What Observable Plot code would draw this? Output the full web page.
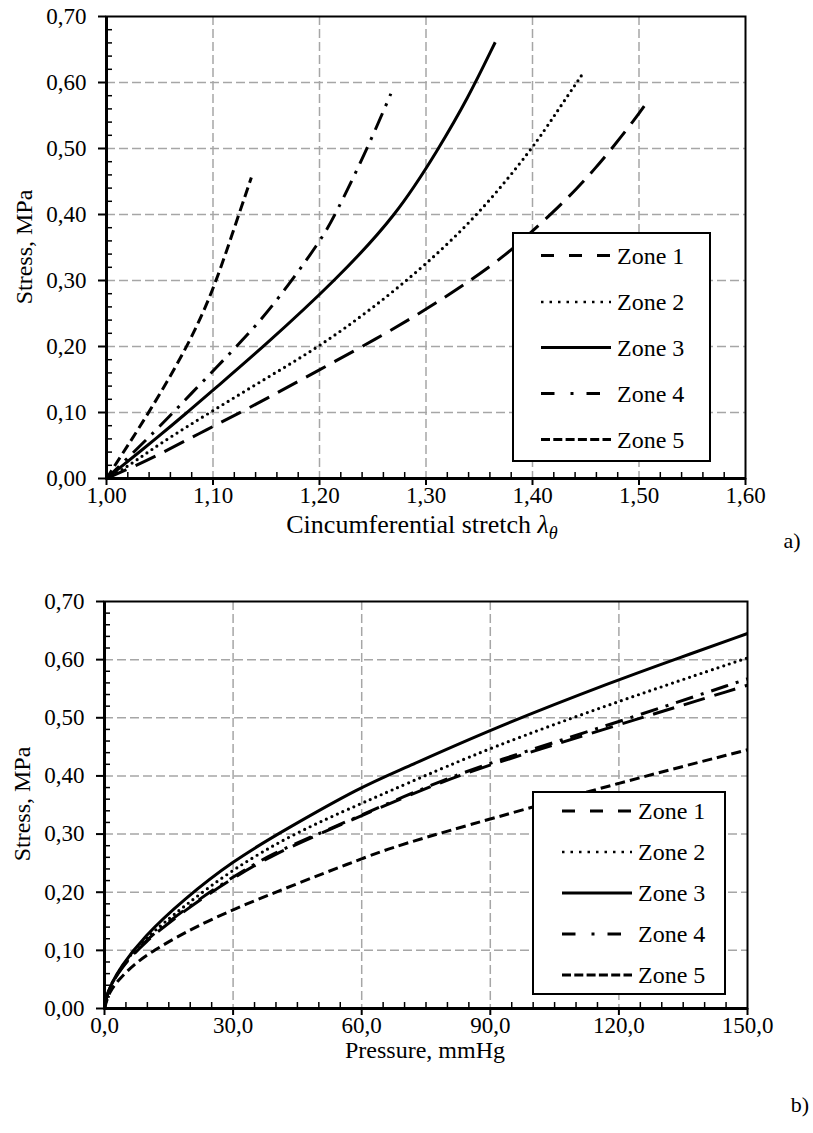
<!DOCTYPE html>
<html>
<head>
<meta charset="utf-8">
<script src="https://cdn.jsdelivr.net/npm/d3@7"></script>
<script src="https://cdn.jsdelivr.net/npm/@observablehq/plot@0.6"></script>
<style>
  body { margin: 0; background: #fff; font-family: "Liberation Serif", "Times New Roman", Tinos, Times, "DejaVu Serif", serif; color: #000; }
  #page { position: relative; width: 813px; height: 1133px; overflow: hidden; background: #fff; }
  .chart { position: absolute; left: 0; }
  .ttl { position: absolute; font-size: 24px; white-space: nowrap; line-height: 1; transform: translate(-50%, -50%); }
  .rot { transform: translate(-50%, -50%) rotate(-90deg); }
  .tag { position: absolute; font-size: 22px; line-height: 1; transform: translate(-50%, -50%); }
  .legend { position: absolute; }
</style>
</head>
<body>
<div id="page">
  <div id="chartA" class="chart" style="top:0px"></div>
  <div id="chartB" class="chart" style="top:545px"></div>
  <div class="ttl" style="left:422px; top:527px; font-size:26px">Cincumferential stretch <i>λ</i><sub style="font-size:70%; vertical-align:-0.35em"><i>θ</i></sub></div>
  <div class="ttl rot" style="left:24px; top:247px">Stress, MPa</div>
  <div class="tag" style="left:792px; top:541px">a)</div>
  <div class="ttl" style="left:425px; top:1050px">Pressure, mmHg</div>
  <div class="ttl rot" style="left:22px; top:804px">Stress, MPa</div>
  <div class="tag" style="left:800px; top:1105px">b)</div>
  <div id="legA" class="legend"></div>
  <div id="legB" class="legend"></div>
</div>
<script>
// ---------- Data: chart a) stress vs circumferential stretch ----------
const zoneNames = ["Zone 1", "Zone 2", "Zone 3", "Zone 4", "Zone 5"];

const stretchZone1 = [1.00, 1.024, 1.048, 1.095, 1.138, 1.198, 1.254, 1.300, 1.342, 1.376, 1.400, 1.423, 1.442, 1.458, 1.477, 1.495, 1.507];
const stressAZone1 = [0.000, 0.017, 0.035, 0.075, 0.110, 0.163, 0.212, 0.256, 0.300, 0.340, 0.375, 0.409, 0.440, 0.468, 0.505, 0.542, 0.569];

const stretchZone2 = [1.00, 1.02, 1.05, 1.10, 1.15, 1.20, 1.25, 1.30, 1.35, 1.40, 1.423, 1.447];
const stressAZone2 = [0.000, 0.018, 0.053, 0.103, 0.152, 0.200, 0.258, 0.324, 0.401, 0.500, 0.556, 0.613];

const stretchZone3 = [1.00, 1.05, 1.0757, 1.1008, 1.1477, 1.215, 1.273, 1.312, 1.339, 1.365];
const stressAZone3 = [0.000, 0.065, 0.100, 0.135, 0.200, 0.300, 0.400, 0.500, 0.575, 0.661];

const stretchZone4 = [1.00, 1.048, 1.076, 1.132, 1.160, 1.201, 1.215, 1.245, 1.267];
const stressAZone4 = [0.000, 0.075, 0.123, 0.216, 0.269, 0.360, 0.400, 0.500, 0.583];

const stretchZone5 = [1.00, 1.02, 1.041, 1.076, 1.10, 1.118, 1.136];
const stressAZone5 = [0.000, 0.050, 0.103, 0.199, 0.284, 0.370, 0.456];

// ---------- Data: chart b) stress vs pressure ----------
const pressureZone1 = [0, 0.5, 1.5, 3.7, 9.1, 18.5, 30, 39.5, 48.9, 60, 76.9, 90, 120, 150];
const stressBZone1  = [0, 0.022, 0.040, 0.068, 0.113, 0.168, 0.225, 0.265, 0.296, 0.332, 0.385, 0.420, 0.488, 0.556];

const pressureZone2 = [0, 0.5, 1.5, 3.7, 6.8, 9.1, 18.5, 30, 43.8, 60, 69, 90, 120, 150];
const stressBZone2  = [0, 0.021, 0.040, 0.069, 0.099, 0.118, 0.176, 0.240, 0.300, 0.353, 0.382, 0.449, 0.529, 0.603];

const pressureZone3 = [0, 0.5, 1.5, 3.7, 9.1, 18.5, 30, 41.5, 60, 69, 90, 120, 132.9, 150];
const stressBZone3  = [0, 0.021, 0.041, 0.071, 0.123, 0.188, 0.254, 0.305, 0.382, 0.410, 0.480, 0.566, 0.600, 0.645];

const pressureZone4 = [0, 0.5, 1.5, 3.7, 9.1, 18.5, 30, 39.5, 48.9, 60, 76.9, 90, 120, 150];
const stressBZone4  = [0, 0.022, 0.041, 0.069, 0.115, 0.170, 0.227, 0.268, 0.297, 0.333, 0.387, 0.423, 0.493, 0.567];

const pressureZone5 = [0, 1, 3, 6.8, 11.5, 18.5, 30, 60, 69, 90, 120, 150];
const stressBZone5  = [0, 0.027, 0.047, 0.076, 0.100, 0.130, 0.172, 0.258, 0.282, 0.326, 0.388, 0.445];

// ---------- Ticks ----------
const stretchTicks = [1.00, 1.10, 1.20, 1.30, 1.40, 1.50, 1.60];
const pressureTicks = [0, 30, 60, 90, 120, 150];
const stressTicks = [0, 0.10, 0.20, 0.30, 0.40, 0.50, 0.60, 0.70];
const stretchMinor = d3.range(1.02, 1.6, 0.02).filter((v, i) => (i + 1) % 5 !== 0);
const pressureMinor = d3.range(5, 150, 5).filter(v => v % 30 !== 0);
const stressMinor = d3.range(0.02, 0.7, 0.02).filter((v, i) => (i + 1) % 5 !== 0);

// ---------- Styles ----------
const FONT = '"Liberation Serif", "Times New Roman", Tinos, Times, "DejaVu Serif", serif';
const plotDash = [
  {dash: "22,10", width: 3, cap: "butt"},
  {dash: "0,6", width: 3.2, cap: "round"},
  {dash: null, width: 3, cap: "butt"},
  {dash: "18,8,3,8", width: 3, cap: "butt"},
  {dash: "10,5", width: 3, cap: "butt"}
];
const legendDash = [
  {dash: "13,15", width: 3, len: 70},
  {dash: "2.5,6", width: 2.5, len: 70},
  {dash: null, width: 3, len: 70},
  {dash: "13.5,16,3,13", width: 3, len: 59},
  {dash: "9,3.3", width: 3, len: 70}
];

const toRows = (xs, ys) => xs.map((x, i) => ({x, y: ys[i]}));

function makeChart({width, height, mt, mb, ml, mr, xDomain, xTicks, xMinor, xFmt, series, curve}) {
  const H = height - mt - mb;
  const W = width - ml - mr;
  const grid = {stroke: "#a6a6a6", strokeOpacity: 1, strokeWidth: 1.5, strokeDasharray: "9,4"};
  return Plot.plot({
    width, height,
    marginTop: mt, marginBottom: mb, marginLeft: ml, marginRight: mr,
    x: {domain: xDomain},
    y: {domain: [0, 0.7]},
    style: {fontFamily: FONT, fontSize: "23px", color: "#000", background: "transparent", overflow: "visible"},
    marks: [
      Plot.gridX(xTicks.slice(1, -1), grid),
      Plot.gridY(stressTicks.slice(1, -1), grid),
      Plot.ruleX(xMinor, {stroke: "#000", strokeWidth: 1.5, insetTop: H - 6}),
      Plot.ruleY(stressMinor, {stroke: "#000", strokeWidth: 1.5, insetRight: W - 6}),
      Plot.axisX(xTicks, {tickSize: 7, tickPadding: 1, tickFormat: xFmt, strokeWidth: 2, label: null, fill: "#000"}),
      Plot.axisY(stressTicks, {tickSize: 8, tickPadding: 12, tickFormat: d => d.toFixed(2).replace(".", ","), strokeWidth: 2, label: null, fill: "#000"}),
      ...series.map((s, i) => Plot.line(s, {
        x: "x", y: "y", stroke: "#000", strokeWidth: plotDash[i].width,
        strokeDasharray: plotDash[i].dash, strokeLinecap: plotDash[i].cap, curve
      })),
      Plot.frame({stroke: "#000", strokeWidth: 2}),
      Plot.ruleX([xDomain[0]], {stroke: "#000", strokeWidth: 3}),
      Plot.ruleY([0], {stroke: "#000", strokeWidth: 3})
    ]
  });
}

const seriesA = [
  toRows(stretchZone1, stressAZone1), toRows(stretchZone2, stressAZone2), toRows(stretchZone3, stressAZone3),
  toRows(stretchZone4, stressAZone4), toRows(stretchZone5, stressAZone5)
];
const seriesB = [
  toRows(pressureZone1, stressBZone1), toRows(pressureZone2, stressBZone2), toRows(pressureZone3, stressBZone3),
  toRows(pressureZone4, stressBZone4), toRows(pressureZone5, stressBZone5)
];

document.getElementById("chartA").append(makeChart({
  width: 813, height: 545, mt: 16, mb: 67, ml: 106, mr: 68,
  xDomain: [1.0, 1.6], xTicks: stretchTicks, xMinor: stretchMinor,
  xFmt: d => d.toFixed(2).replace(".", ","), series: seriesA, curve: "basis"
}));
document.getElementById("chartB").append(makeChart({
  width: 813, height: 588, mt: 56, mb: 125, ml: 104, mr: 66,
  xDomain: [0, 150], xTicks: pressureTicks, xMinor: pressureMinor,
  xFmt: d => d.toFixed(1).replace(".", ","), series: seriesB, curve: "basis"
}));

function drawLegend(id, {left, top, w, h, rowY, x0, tx}) {
  const el = document.getElementById(id);
  el.style.left = left + "px"; el.style.top = top + "px";
  let s = `<svg width="${w}" height="${h}" style="display:block; font-family:${FONT.replace(/"/g, "'")}; font-size:24px">`;
  s += `<rect x="1" y="1" width="${w - 2}" height="${h - 2}" fill="#fff" stroke="#000" stroke-width="2"/>`;
  zoneNames.forEach((name, i) => {
    const st = legendDash[i];
    const y = rowY[i];
    s += `<line x1="${x0}" x2="${x0 + st.len}" y1="${y}" y2="${y}" stroke="#000" stroke-width="${st.width}"` +
         (st.dash ? ` stroke-dasharray="${st.dash}"` : "") + `/>`;
    s += `<text x="${tx}" y="${y}" dy="0.35em" fill="#000">${name}</text>`;
  });
  s += `</svg>`;
  el.innerHTML = s;
}
drawLegend("legA", {left: 512, top: 232, w: 199, h: 230, rowY: [23.5, 70, 115.5, 161.5, 207.5], x0: 29, tx: 105});
drawLegend("legB", {left: 532, top: 791, w: 194, h: 204, rowY: [20, 61, 102, 143, 184], x0: 30, tx: 106});
</script>
</body>
</html>
